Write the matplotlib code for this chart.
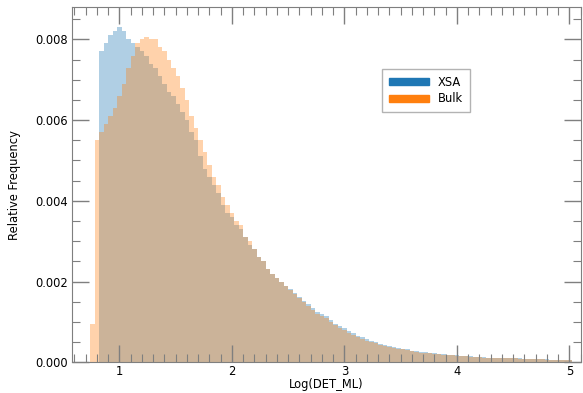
import numpy as np
import matplotlib
matplotlib.use('Agg')
import matplotlib.pyplot as plt
from matplotlib.patches import Patch
from matplotlib.ticker import MultipleLocator

# bin edges for Log(DET_ML)
bin_start = 0.74
bin_width = 0.04

# relative frequency per bin
xsa_freq = [
    0.0, 0.0, 0.0077, 0.0079, 0.0081, 0.0082, 0.0083, 0.0082, 0.0080, 0.0079,
    0.0078, 0.0077, 0.0076, 0.0074, 0.0073, 0.0071, 0.0069, 0.0067, 0.0066, 0.0064,
    0.0062, 0.0060, 0.0057, 0.0055, 0.0051, 0.0048, 0.0046, 0.0044, 0.0042, 0.0039,
    0.0037, 0.0036, 0.0034, 0.0033, 0.0031, 0.0029, 0.0028, 0.0026, 0.0025, 0.0023,
    0.0022, 0.0021, 0.0020, 0.0019, 0.00182, 0.00172, 0.00163, 0.00153, 0.00144, 0.00134,
    0.00125, 0.00119, 0.00114, 0.00104, 0.00096, 0.00089, 0.00084, 0.00077, 0.00072, 0.00066,
    0.00062, 0.00057, 0.00053, 0.00050, 0.00046, 0.00043, 0.00040, 0.00038, 0.00036, 0.00034,
    0.00032, 0.00029, 0.00027, 0.00026, 0.00025, 0.00023, 0.00022, 0.00021, 0.00020, 0.00019,
    0.00018, 0.00017, 0.00016, 0.00015, 0.00015, 0.00014, 0.00013, 0.00013, 0.00012, 0.00012,
    0.00011, 0.00011, 0.00011, 0.00010, 0.00010, 0.00010, 0.00009, 0.00009, 0.00009, 0.00008,
    0.00008, 0.00008, 0.00007, 0.00007, 0.00006, 0.00006, 0.00005,
]
bulk_freq = [
    0.00096, 0.0055, 0.0057, 0.0059, 0.0061, 0.0063, 0.0066, 0.0069, 0.0073, 0.0076,
    0.0079, 0.0080, 0.00805, 0.0080, 0.0080, 0.0078, 0.0077, 0.0075, 0.0073, 0.0071,
    0.0068, 0.0065, 0.0061, 0.0058, 0.0055, 0.0052, 0.0049, 0.0046, 0.0044, 0.0041,
    0.0039, 0.0037, 0.0035, 0.0034, 0.0031, 0.0030, 0.0028, 0.0026, 0.0025, 0.0023,
    0.0022, 0.0021, 0.0020, 0.0019, 0.0018, 0.0017, 0.0016, 0.0015, 0.0014, 0.0013,
    0.0012, 0.00115, 0.0011, 0.0010, 0.00092, 0.00085, 0.00080, 0.00073, 0.00068, 0.00062,
    0.00058, 0.00054, 0.00050, 0.00047, 0.00043, 0.00040, 0.00038, 0.00036, 0.00034, 0.00032,
    0.00030, 0.00027, 0.00025, 0.00024, 0.00023, 0.00022, 0.00021, 0.00020, 0.00019, 0.00018,
    0.00017, 0.00016, 0.00015, 0.00015, 0.00014, 0.00013, 0.00013, 0.00012, 0.00012, 0.00011,
    0.00011, 0.00011, 0.00010, 0.00010, 0.00010, 0.00009, 0.00009, 0.00009, 0.00008, 0.00008,
    0.00008, 0.00007, 0.00007, 0.00006, 0.00006, 0.00005, 0.00005,
]

labels = ['XSA', 'Bulk']

n_bins = len(bulk_freq)
edges = bin_start + bin_width * np.arange(n_bins + 1)
centers = 0.5 * (edges[:-1] + edges[1:])

plt.rcParams['font.family'] = 'DejaVu Sans'
plt.rcParams['font.size'] = 8.3

fig = plt.figure(figsize=(5.83, 3.93), dpi=100)
ax = fig.add_axes([0.1235, 0.078, 0.8725, 0.904])

ax.hist(centers, bins=edges, weights=xsa_freq, color='C0', alpha=0.35)
ax.hist(centers, bins=edges, weights=bulk_freq, color='C1', alpha=0.35)

ax.set_xlim(0.58, 5.10)
ax.set_ylim(0, 0.0088)
ax.xaxis.set_major_locator(MultipleLocator(1))
ax.xaxis.set_minor_locator(MultipleLocator(0.1))
ax.set_yticks([0.0, 0.002, 0.004, 0.006, 0.008])
ax.yaxis.set_minor_locator(MultipleLocator(0.0005))
ax.set_yticklabels(['0.000', '0.002', '0.004', '0.006', '0.008'])

ax.tick_params(which='both', direction='in', top=True, right=True, color='#7f7f7f')
ax.tick_params(which='major', length=12, width=1, pad=2)
ax.tick_params(which='minor', length=6, width=0.8)
ax.tick_params(axis='y', which='major', pad=3)
for s in ax.spines.values():
    s.set_color('#7f7f7f')

ax.set_xlabel('Log(DET_ML)', labelpad=0)
ax.set_ylabel('Relative Frequency', labelpad=10)

handles = [Patch(color='C0'), Patch(color='C1')]
ax.legend(handles, labels, loc='upper right', bbox_to_anchor=(0.782, 0.826),
          borderaxespad=0, fancybox=False, edgecolor='#a0a0a0',
          handlelength=3.4, handleheight=0.6, borderpad=0.6, labelspacing=0.3)

fig.savefig('out.png', dpi=100)
